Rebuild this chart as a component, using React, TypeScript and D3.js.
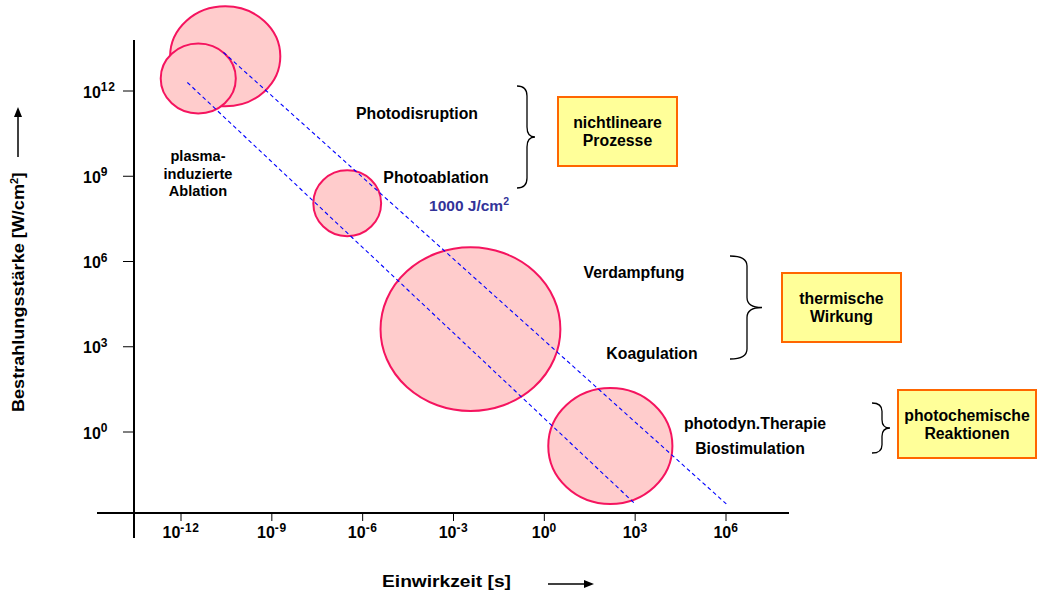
import React from "react";
import * as d3 from "d3";

// ---- data (log10 exponents) ----
const xTickExps = [-12, -9, -6, -3, 0, 3, 6];
const yTickExps = [0, 3, 6, 9, 12];

// bubbles: centre (log10 s, log10 W/cm²) and half-extent in decades
const bubbleNames = ["Photodisruption", "plasma-induzierte Ablation", "Photoablation", "thermisch", "photochemisch"];
const bubbleCx = [-10.54, -11.43, -6.51, -2.44, 2.18];
const bubbleCy = [13.22, 12.44, 8.05, 3.62, -0.49];
const bubbleRx = [1.82, 1.24, 1.12, 2.97, 2.05];
const bubbleRy = [1.76, 1.23, 1.16, 2.88, 2.04];

// iso-fluence dashed lines: [start, end] in log10 units
const lineX1 = [-11.79, -10.6];
const lineY1 = [12.3, 13.36];
const lineX2 = [2.97, 6.01];
const lineY2 = [-2.5, -2.53];

const labels = ["Photodisruption", "Photoablation", "Verdampfung", "Koagulation", "photodyn.Therapie", "Biostimulation"];
const plasmaLines = ["plasma-", "induzierte", "Ablation"];
const boxTexts = [["nichtlineare", "Prozesse"], ["thermische", "Wirkung"], ["photochemische", "Reaktionen"]];

// ---- layout ----
const W = 1038, H = 595;
const FONT = "'Liberation Sans', Arial, Helvetica, sans-serif";
const labelPos = [[417, 113], [436, 177], [634, 272], [652, 353], [755, 423], [750, 448]];
const plasmaPos = { x: 198, y: [156, 174, 191] };
const bracePos = [
  { x0: 517, tip: 535, y0: 86, y1: 188 },
  { x0: 730, tip: 762, y0: 256, y1: 359 },
  { x0: 872, tip: 890, y0: 403, y1: 453 },
];
const boxPos = [
  { x: 558, y: 97, w: 119, h: 69 },
  { x: 782, y: 273, w: 119, h: 69 },
  { x: 898, y: 390, w: 138, h: 68 },
];

function bracePath(b: { x0: number; tip: number; y0: number; y1: number }) {
  const sx = (b.x0 + b.tip) / 2 + 1;
  const ym = (b.y0 + b.y1) / 2;
  const r = Math.min(10, (b.y1 - b.y0) / 6);
  return [
    `M${b.x0},${b.y0}`,
    `Q${sx},${b.y0} ${sx},${b.y0 + r}`,
    `L${sx},${ym - r}`,
    `Q${sx},${ym} ${b.tip},${ym}`,
    `Q${sx},${ym} ${sx},${ym + r}`,
    `L${sx},${b.y1 - r}`,
    `Q${sx},${b.y1} ${b.x0},${b.y1}`,
  ].join(" ");
}

export default function App() {
  const x = d3.scaleLinear().domain([-12, 6]).range([181, 726]);
  const y = d3.scaleLinear().domain([0, 12]).range([432, 91]);
  const pxPerDecX = Math.abs(x(1) - x(0));
  const pxPerDecY = Math.abs(y(1) - y(0));

  return (
    <svg width={W} height={H} style={{ position: "absolute", left: 0, top: 0, background: "#fff" }} fontFamily={FONT}>
      {/* bubbles */}
      {bubbleNames.map((n, i) => (
        <ellipse
          key={n}
          cx={x(bubbleCx[i])}
          cy={y(bubbleCy[i])}
          rx={bubbleRx[i] * pxPerDecX}
          ry={bubbleRy[i] * pxPerDecY}
          fill="#ffcccc"
          stroke="#f5145f"
          strokeWidth={2}
        />
      ))}
      {/* dashed lines */}
      {lineX1.map((_, i) => (
        <line
          key={i}
          x1={x(lineX1[i])}
          y1={y(lineY1[i])}
          x2={x(lineX2[i])}
          y2={y(lineY2[i])}
          stroke="#0000ff"
          strokeWidth={1.1}
          strokeDasharray="4,3"
        />
      ))}
      {/* axes */}
      <line x1={97} x2={789} y1={513} y2={513} stroke="#000" strokeWidth={2.2} />
      <line x1={134} x2={134} y1={40} y2={538} stroke="#000" strokeWidth={2} />
      {xTickExps.map((e) => (
        <g key={e}>
          <line x1={x(e)} x2={x(e)} y1={513} y2={521} stroke="#000" strokeWidth={1} />
          <text x={x(e)} y={538} textAnchor="middle" fontWeight="bold" fontSize={16}>
            10<tspan dy={-6.5} fontSize={12} letterSpacing={0.6}>{e}</tspan>
          </text>
        </g>
      ))}
      {yTickExps.map((e) => (
        <g key={e}>
          <line x1={123} x2={134} y1={y(e)} y2={y(e)} stroke="#000" strokeWidth={1} />
          <text x={83} y={y(e) + 6.5} fontWeight="bold" fontSize={16}>
            10<tspan dy={-6.5} fontSize={12} letterSpacing={0.8}>{e}</tspan>
          </text>
        </g>
      ))}
      {/* axis titles */}
      <text x={382} y={587} fontWeight="bold" fontSize={16.5} textLength={129} lengthAdjust="spacingAndGlyphs">Einwirkzeit [s]</text>
      <line x1={548} x2={586} y1={584} y2={584} stroke="#000" strokeWidth={1.5} />
      <path d="M594,584 L584,580 L584,588 Z" fill="#000" />
      <text transform="translate(24,412) rotate(-90)" fontWeight="bold" fontSize={16}>
        <tspan textLength={228} lengthAdjust="spacingAndGlyphs">Bestrahlungsstärke [W/cm</tspan>
        <tspan dy={-6} fontSize={11}>2</tspan>
        <tspan dy={6}>]</tspan>
      </text>
      <line x1={18} x2={18} y1={157} y2={116} stroke="#000" strokeWidth={1.5} />
      <path d="M18,107 L14,117 L22,117 Z" fill="#000" />
      {/* labels */}
      {labels.map((l, i) => (
        <text key={l} x={labelPos[i][0]} y={labelPos[i][1] + 5.5} textAnchor="middle" fontWeight="bold" fontSize={15.8}>{l}</text>
      ))}
      {plasmaLines.map((l, i) => (
        <text key={l} x={plasmaPos.x} y={plasmaPos.y[i] + 5.3} textAnchor="middle" fontWeight="bold" fontSize={14.6}>{l}</text>
      ))}
      <text x={469} y={211} textAnchor="middle" fontWeight="bold" fontSize={15.5} fill="#333399">
        1000 J/cm<tspan dy={-6} fontSize={10.5}>2</tspan>
      </text>
      {/* braces */}
      {bracePos.map((b, i) => (
        <path key={i} d={bracePath(b)} fill="none" stroke="#000" strokeWidth={1.3} />
      ))}
      {/* boxes */}
      {boxPos.map((b, i) => (
        <g key={i}>
          <rect x={b.x} y={b.y} width={b.w} height={b.h} fill="#ffff99" stroke="#ff6600" strokeWidth={2} />
          {boxTexts[i].map((t, j) => (
            <text key={t} x={b.x + b.w / 2} y={b.y + b.h / 2 - 3.5 + j * 18} textAnchor="middle" fontWeight="bold" fontSize={15.8}>{t}</text>
          ))}
        </g>
      ))}
    </svg>
  );
}
